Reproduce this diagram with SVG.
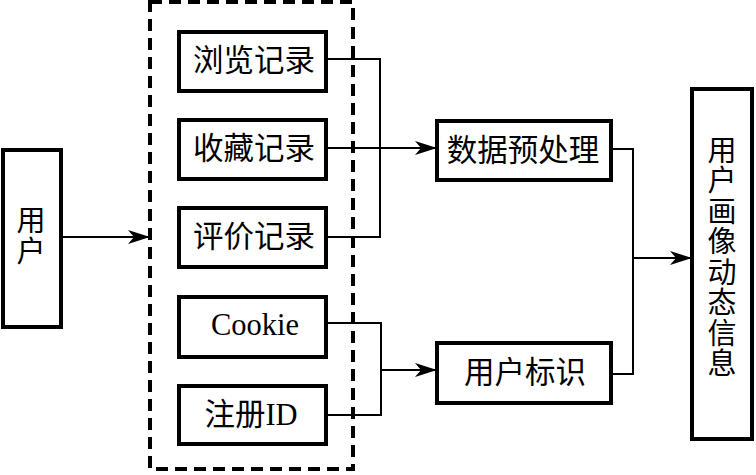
<svg xmlns="http://www.w3.org/2000/svg" width="756" height="475" viewBox="0 0 756 475">
  <style>
    .box { fill: #fff; stroke: #000; stroke-width: 4; }
    .group { fill: none; stroke: #000; stroke-width: 4; stroke-dasharray: 12 7; }
    .wire { fill: none; stroke: #000; stroke-width: 2; }
    .label { font-family: "Liberation Serif", "Noto Sans CJK SC", serif; font-size: 30.5px; fill: #000; text-anchor: middle; dominant-baseline: central; }
    .vlabel { font-family: "Noto Sans CJK SC", sans-serif; font-size: 29px; fill: #000; text-anchor: middle; writing-mode: vertical-rl; letter-spacing: 1.5px; }
  </style>
  <defs>
    <marker id="arrow" markerUnits="userSpaceOnUse" markerWidth="22" markerHeight="14" refX="22" refY="7" orient="auto">
      <path d="M0,0 L22,7 L0,14 L6,7 Z" fill="#000"/>
    </marker>
  </defs>
  <rect width="756" height="475" fill="#fff"/>

  <!-- dashed container of the data sources -->
  <rect id="sources" class="group" x="150" y="2" width="203" height="467"/>

  <g id="user">
    <rect class="box" x="3" y="150" width="58" height="177"/>
    <text class="vlabel" x="31" y="236">用户</text>
  </g>

  <g id="browse">
    <rect class="box" x="179" y="32" width="147" height="59"/>
    <text class="label" x="254" y="61">浏览记录</text>
  </g>
  <g id="favorite">
    <rect class="box" x="179" y="120" width="147" height="59"/>
    <text class="label" x="254" y="149">收藏记录</text>
  </g>
  <g id="review">
    <rect class="box" x="179" y="208" width="147" height="59"/>
    <text class="label" x="254" y="237">评价记录</text>
  </g>
  <g id="cookie">
    <rect class="box" x="179" y="297" width="147" height="60"/>
    <text class="label" x="255" y="325">Cookie</text>
  </g>
  <g id="regid">
    <rect class="box" x="179" y="386" width="147" height="58"/>
    <text class="label" x="251" y="415">注册ID</text>
  </g>

  <g id="preprocess">
    <rect class="box" x="437" y="121" width="174" height="59"/>
    <text class="label" x="523" y="151">数据预处理</text>
  </g>
  <g id="userid">
    <rect class="box" x="437" y="343" width="174" height="60"/>
    <text class="label" x="525" y="373">用户标识</text>
  </g>

  <g id="profile">
    <rect class="box" x="692" y="89" width="60" height="350"/>
    <text class="vlabel" x="722" y="257">用户画像动态信息</text>
  </g>

  <g id="connectors">
    <line class="wire" x1="61" y1="237" x2="150" y2="237" marker-end="url(#arrow)"/>
    <polyline class="wire" points="326,59 380,59 380,237 326,237"/>
    <line class="wire" x1="326" y1="148" x2="437" y2="148" marker-end="url(#arrow)"/>
    <polyline class="wire" points="326,323 381,323 381,415 326,415"/>
    <line class="wire" x1="381" y1="370" x2="437" y2="370" marker-end="url(#arrow)"/>
    <polyline class="wire" points="611,149 633,149 633,374 611,374"/>
    <line class="wire" x1="633" y1="258" x2="692" y2="258" marker-end="url(#arrow)"/>
  </g>
</svg>
